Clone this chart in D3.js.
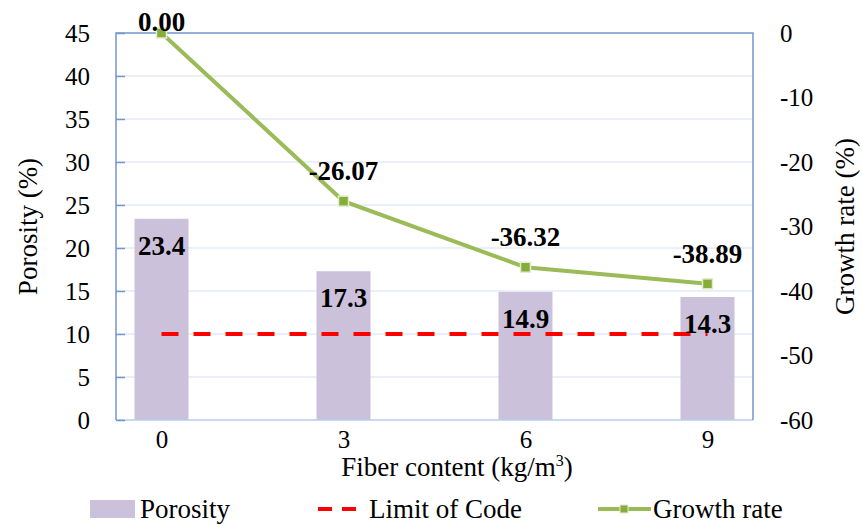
<!DOCTYPE html>
<meta charset="utf-8">
<body style="margin:0">
<script src="https://d3js.org/d3.v7.min.js"></script>
<script>
// data
const fiber = ["0", "3", "6", "9"];
const porosity = [23.4, 17.3, 14.9, 14.3];
const growth = [0.00, -26.07, -36.32, -38.89];
const limitCode = [10, 10, 10, 10];
const leftTicks = [0, 5, 10, 15, 20, 25, 30, 35, 40, 45];
const rightTicks = [0, -10, -20, -30, -40, -50, -60];

const W = 862, H = 525;
const plot = {left: 116, right: 753, top: 33, bottom: 420};

// put the serif font straight on a text selection
function serif(sel, size, bold) {
  sel.attr("font-family", "Liberation Serif")
    .attr("style", `font-family:'Liberation Serif';font-size:${size}px;font-weight:${bold ? 700 : 400}`)
    .attr("font-size", size)
    .attr("fill", "#000");
  return sel;
}

const svg = d3.select("body").append("svg")
  .attr("width", W).attr("height", H)
  .attr("font-family", "Liberation Serif")
  .style("font-family", "'Liberation Serif'");

const x = d3.scalePoint().domain(fiber).range([plot.left, plot.right]).padding(0.25);
const y = d3.scaleLinear().domain([0, 45]).range([plot.bottom, plot.top]);
const y2 = d3.scaleLinear().domain([-60, 0]).range([plot.bottom, plot.top]);

// gridlines
svg.append("g").selectAll("line")
  .data(leftTicks.filter(d => d > 0 && d < 45))
  .join("line")
    .attr("x1", plot.left).attr("x2", plot.right)
    .attr("y1", d => y(d)).attr("y2", d => y(d))
    .attr("stroke", "#d5e2f4").attr("stroke-width", 1.2);

// bars
const barW = 54;
svg.append("g").selectAll("rect")
  .data(porosity)
  .join("rect")
    .attr("x", (d, i) => x(fiber[i]) - barW / 2)
    .attr("y", d => y(d))
    .attr("width", barW)
    .attr("height", d => y(0) - y(d))
    .attr("fill", "#cbc1da");

// frame
svg.append("line").attr("x1", plot.left).attr("x2", plot.right)
  .attr("y1", plot.bottom).attr("y2", plot.bottom)
  .attr("stroke", "#b9cdec").attr("stroke-width", 1.5);
svg.append("path")
  .attr("d", `M${plot.left},${plot.bottom}V${plot.top}H${plot.right}V${plot.bottom}`)
  .attr("fill", "none").attr("stroke", "#7197cb").attr("stroke-width", 1.5);

const plain = d => String(d);

// left axis
const yAxis = svg.append("g")
  .attr("transform", `translate(${plot.left},0)`)
  .call(d3.axisLeft(y).tickValues(leftTicks).tickFormat(plain).tickSize(-9).tickPadding(26));
yAxis.attr("font-family", "Liberation Serif").attr("font-size", 25);
yAxis.select(".domain").remove();
yAxis.selectAll("line").attr("stroke", "#7197cb").attr("stroke-width", 1.5);
serif(yAxis.selectAll("text"), 25);

// right axis
const y2Axis = svg.append("g")
  .attr("transform", `translate(${plot.right},0)`)
  .call(d3.axisRight(y2).tickValues(rightTicks).tickFormat(plain).tickSize(0).tickPadding(27));
y2Axis.attr("font-family", "Liberation Serif").attr("font-size", 25);
y2Axis.select(".domain").remove();
serif(y2Axis.selectAll("text"), 25);

// bottom axis
const xAxis = svg.append("g")
  .attr("transform", `translate(0,${plot.bottom})`)
  .call(d3.axisBottom(x).tickSize(0).tickPadding(10));
xAxis.attr("font-family", "Liberation Serif").attr("font-size", 25);
xAxis.select(".domain").remove();
serif(xAxis.selectAll("text"), 25);

// limit of code
svg.append("path")
  .datum(limitCode)
  .attr("d", d3.line().x((d, i) => x(fiber[i])).y(d => y(d)))
  .attr("fill", "none").attr("stroke", "#ff0000")
  .attr("stroke-width", 4).attr("stroke-dasharray", "17,15");

// growth rate line
svg.append("path")
  .datum(growth)
  .attr("d", d3.line().x((d, i) => x(fiber[i])).y(d => y2(d)))
  .attr("fill", "none").attr("stroke", "#9bbb59").attr("stroke-width", 4);
svg.append("g").selectAll("rect")
  .data(growth)
  .join("rect")
    .attr("x", (d, i) => x(fiber[i]) - 5)
    .attr("y", d => y2(d) - 5)
    .attr("width", 10).attr("height", 10)
    .attr("fill", "#86ad3a").attr("stroke", "#e3ecd0").attr("stroke-width", 1.5);

// bar labels
serif(svg.append("g").selectAll("text")
  .data(porosity)
  .join("text")
    .attr("x", (d, i) => x(fiber[i]))
    .attr("y", d => y(d) + 36)
    .attr("text-anchor", "middle")
    .text(d => d.toFixed(1)), 27, true);

// growth labels
serif(svg.append("g").selectAll("text")
  .data(growth)
  .join("text")
    .attr("x", (d, i) => x(fiber[i]))
    .attr("y", d => Math.max(y2(d) - 21, 31))
    .attr("text-anchor", "middle")
    .text(d => d.toFixed(2)), 27, true);

// axis titles
serif(svg.append("text")
  .attr("transform", `translate(37,${(plot.top + plot.bottom) / 2}) rotate(-90)`)
  .attr("text-anchor", "middle")
  .text("Porosity (%)"), 27);
serif(svg.append("text")
  .attr("transform", `translate(854,${(plot.top + plot.bottom) / 2}) rotate(-90)`)
  .attr("text-anchor", "middle")
  .text("Growth rate (%)"), 27);
const xt = serif(svg.append("text")
  .attr("x", 457).attr("y", 476)
  .attr("text-anchor", "middle"), 27);
xt.append("tspan").text("Fiber content (kg/m");
xt.append("tspan").attr("font-size", 16).style("font-size", "16px").attr("dy", -10).text("3");
xt.append("tspan").attr("dy", 10).text(")");

// legend
const lg = svg.append("g");
lg.append("rect").attr("x", 90).attr("y", 500).attr("width", 45).attr("height", 18).attr("fill", "#cbc1da");
serif(lg.append("text").attr("x", 140).attr("y", 518).text("Porosity"), 27);
lg.append("line").attr("x1", 318).attr("x2", 366).attr("y1", 509).attr("y2", 509)
  .attr("stroke", "#ff0000").attr("stroke-width", 4).attr("stroke-dasharray", "14,10");
serif(lg.append("text").attr("x", 369).attr("y", 518).text("Limit of Code"), 27);
lg.append("line").attr("x1", 598).attr("x2", 651).attr("y1", 509).attr("y2", 509)
  .attr("stroke", "#9bbb59").attr("stroke-width", 4);
lg.append("rect").attr("x", 620).attr("y", 505).attr("width", 8).attr("height", 8)
  .attr("fill", "#86ad3a").attr("stroke", "#e3ecd0").attr("stroke-width", 1);
serif(lg.append("text").attr("x", 653).attr("y", 518).text("Growth rate"), 27);
</script>
</body>
